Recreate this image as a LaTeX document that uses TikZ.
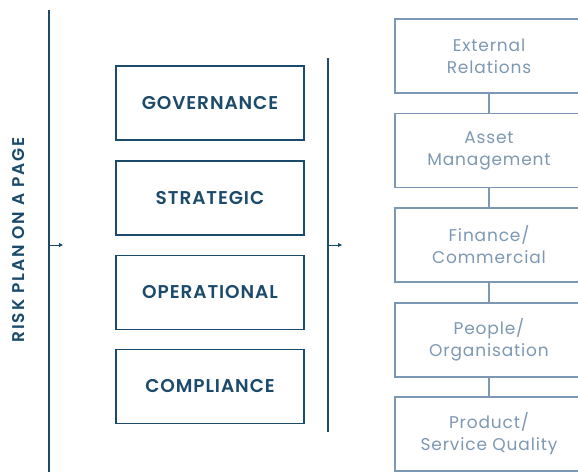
\documentclass[tikz,border=0pt]{standalone}
\usepackage{fontspec}
\setmainfont{Poppins}
\newfontfamily\headfont{Poppins}[UprightFont=*-SemiBold,LetterSpace=5]
\newfontfamily\titlefont{Poppins}[UprightFont=*-SemiBold,LetterSpace=11]
\newfontfamily\areafont{Poppins}[LetterSpace=5]
\usetikzlibrary{arrows.meta}
\definecolor{navy}{HTML}{1B4A6B}
\definecolor{slate}{HTML}{7D98B3}
\begin{document}
\begin{tikzpicture}[x=1pt,y=-1pt,
  catbox/.style={draw=navy,line width=1.2pt,minimum width=188pt,minimum height=74pt,
    text=navy,font=\headfont\fontsize{18.5}{20}\selectfont},
  areabox/.style={draw=slate,line width=1.4pt,minimum width=188pt,minimum height=74pt,
    text=slate,align=center,font=\areafont\fontsize{17}{22}\selectfont},
  spine/.style={draw=navy,line width=1.2pt},
  feed/.style={draw=navy,line width=1pt,-{Triangle[length=4pt,width=4pt]}},
  link/.style={draw=slate,line width=1.4pt}]
\useasboundingbox (0,0) rectangle (578,472);
\clip (0,0) rectangle (578,472);

% title
\node[rotate=90,text=navy,font=\titlefont\fontsize{17}{18}\selectfont] (title) at (19,240) {RISK PLAN ON A PAGE};

% left spine and its feed
\coordinate (s1t) at (49,10);
\coordinate (s1b) at (49,472);
\draw[spine] (s1t) -- (s1b);
\coordinate (s1m) at (49,245);
\coordinate (a1) at (63,245);
\draw[feed] (s1m) -- (a1);

% risk categories
\node[catbox] (gov) at (210,103) {GOVERNANCE};
\node[catbox] (str) at (210,198) {STRATEGIC};
\node[catbox] (ope) at (210,292.5) {OPERATIONAL};
\node[catbox] (com) at (210,386.5) {COMPLIANCE};

% middle spine and its feed
\coordinate (s2t) at (328,58);
\coordinate (s2b) at (328,432);
\draw[spine] (s2t) -- (s2b);
\coordinate (s2m) at (328,245);
\coordinate (a2) at (342,245);
\draw[feed] (s2m) -- (a2);

% risk areas
\node[areabox] (ext) at (489,56) {External\\Relations};
\node[areabox] (ass) at (489,150.5) {Asset\\Management};
\node[areabox] (fin) at (489,245) {Finance/\\Commercial};
\node[areabox] (peo) at (489,340) {People/\\Organisation};
\node[areabox] (pro) at (489,434) {Product/\\Service Quality};

\draw[link] (ext) -- (ass);
\draw[link] (ass) -- (fin);
\draw[link] (fin) -- (peo);
\draw[link] (peo) -- (pro);
\end{tikzpicture}
\end{document}
